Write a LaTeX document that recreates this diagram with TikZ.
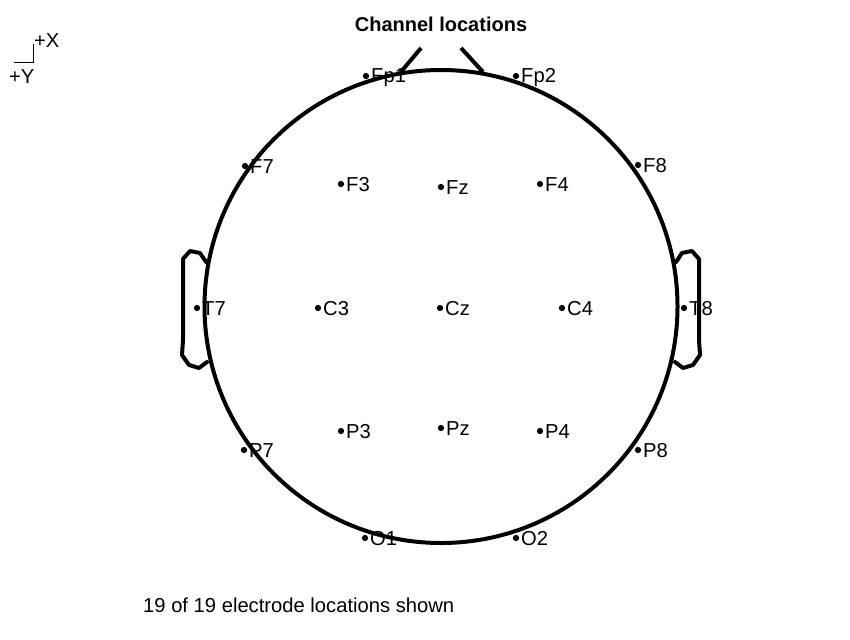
\documentclass[tikz,border=0pt]{standalone}
\usepackage{fontspec}
\setmainfont{Liberation Sans}
\begin{document}
\begin{tikzpicture}[x=1pt,y=-1pt,
  outline/.style={line width=4pt,line join=round,line cap=round},
  elec/.style={circle,fill=black,inner sep=0pt,minimum size=6.3pt},
  lab/.style={anchor=base west,inner sep=0pt,font=\fontsize{20.2}{24}\selectfont},
  txt/.style={inner sep=0pt,font=\fontsize{20.2}{24}\selectfont}]
\useasboundingbox (0,0) rectangle (850,639);
% head
\draw[outline] (441,306.5) circle[radius=236.5];
% nose
\draw[outline,line cap=butt] (400,73) -- (421,48);
\draw[outline,line cap=butt] (461,48) -- (483,72);
% ears
\draw[outline] (676,262) -- (682,253) -- (692,251) -- (699,259) -- (699,340) -- (700,355) -- (693,365) -- (683,368) -- (675,362);
\draw[outline] (206,262) -- (200,253) -- (190,251) -- (183,259) -- (183,340) -- (182,355) -- (189,365) -- (199,368) -- (207,362);
% electrodes
\foreach \n/\x/\y in {Fp1/366/76, Fp2/516/76,
  F7/245/166, F3/341/184, Fz/441/187, F4/540/184, F8/638/165,
  T7/197/308, C3/318/308, Cz/440/308, C4/562/308, T8/684/308,
  P7/244/450, P3/341/431, Pz/441/428, P4/540/431, P8/638/450,
  O1/365/538, O2/516/538}{
  \node[elec] (d\n) at (\x,\y) {};
  \node[lab] (l\n) at ([xshift=5pt,yshift=-7pt]d\n.center) {\n};
}
% title and notes
\node[txt,anchor=base,font=\fontsize{20}{24}\selectfont\bfseries] (title) at (441,32) {Channel locations};
\node[txt,anchor=base west] (note) at (143,612) {19 of 19 electrode locations shown};
% axes indicator
\coordinate (ax0) at (14,62.5);
\coordinate (ax1) at (33,62.5);
\coordinate (ax2) at (33,44);
\draw[line width=0.8pt] (ax0) -- (ax1) -- (ax2);
\node[txt,anchor=base west] (xlab) at (34,48) {+X};
\node[txt,anchor=base west] (ylab) at (9,84) {+Y};
\end{tikzpicture}
\end{document}
